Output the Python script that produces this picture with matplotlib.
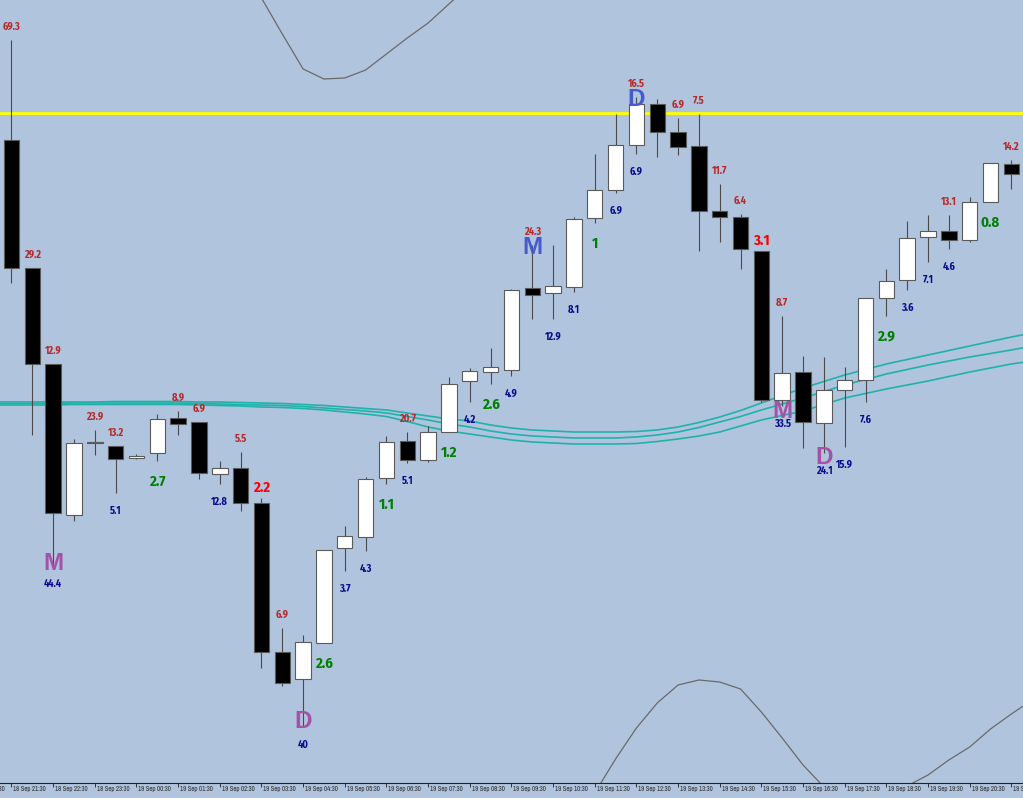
import numpy as np
import matplotlib
matplotlib.use("Agg")
import matplotlib.pyplot as plt
from matplotlib import font_manager as fm
from matplotlib.transforms import ScaledTranslation

# ---------------- data ----------------
# 30-minute candles, first candle = 18 Sep 21:30
opens  = [660,532,436,285,358,354,342,347,382,378,326,332,297,148,121,157,252,263,322,359,
          340,368,419,428,430,512,507,513,582,610,655,696,668,654,589,583,549,400,428,377,
          410,420,502,520,563,569,560,598,636]
highs  = [760,532,436,361,370,354,346,386,389,378,339,348,302,172,165,250,274,323,364,368,
          374,423,432,452,511,555,555,583,646,686,703,701,682,686,616,586,549,484,444,443,
          433,502,531,579,585,585,603,637,640]
lows   = [517,365,234,279,345,307,341,339,365,321,316,289,132,114,73,157,229,249,316,337,
          338,368,398,416,424,481,481,508,577,607,646,643,645,549,558,531,398,394,352,347,
          353,398,484,510,538,551,558,598,611]
closes = [532,436,287,357,357,341,344,381,376,327,332,297,148,117,158,250,264,321,358,340,
          368,416,429,433,510,505,514,581,610,655,696,668,653,589,583,551,400,427,378,410,
          420,502,519,562,569,560,598,637,626]

tick_pos = list(range(-2, 49, 2))
tick_labels = ["18 Sep 20:30", "18 Sep 21:30", "18 Sep 22:30", "18 Sep 23:30",
               "19 Sep 00:30", "19 Sep 01:30", "19 Sep 02:30", "19 Sep 03:30",
               "19 Sep 04:30", "19 Sep 05:30", "19 Sep 06:30", "19 Sep 07:30",
               "19 Sep 08:30", "19 Sep 09:30", "19 Sep 10:30", "19 Sep 11:30",
               "19 Sep 12:30", "19 Sep 13:30", "19 Sep 14:30", "19 Sep 15:30",
               "19 Sep 16:30", "19 Sep 17:30", "19 Sep 18:30", "19 Sep 19:30",
               "19 Sep 20:30", "19 Sep 21:30"]

level_price = 687  # yellow horizontal level

# three moving averages, candle index -1 .. 49
ma_idx = list(range(-1, 50))
ma_a = [398,398,398,398,398,398,398.5,398.5,398.5,398.5,398,398,397.5,397,396.5,395.5,394.5,393,
        391.5,390,387,384,381,379,375,372,370,369,368,368,368,368.5,370,373,377.5,383,389.5,397,
        404.5,412,418.5,425,430.5,436,440.5,445,449.5,454,458.5,463,467]
ma_b = [396.5,396.5,396.5,396.5,397,397,397,397,397,397,396.5,396,395.5,395,394.5,393.5,392,390.5,
        389,387,383.5,380,376,373,369,366,364,363,362,362,362,363,365,368,372.5,378,383.5,390,
        396,402,408.5,415,420.5,426,430.5,435,439,443,446.5,450,454]
ma_c = [395,395,395,395,395.5,395.5,395.5,395.5,395.5,395.5,395,394.5,394,393,392.5,391.5,390,388,
        386,383.5,378.5,373,369,366,363,360,358,357,356,356,356,356.5,358.5,361,364,368,374,380,
        384.5,389,395.5,402,406.5,411,415,419,423.5,428,432,436,439]

# envelope / band lines (grey)
upper_idx = list(range(11, 23))
upper_band = [840,802,766,731,721,722,730,746,762,777,796,815]
lower_idx = list(range(28, 50))
lower_band = [7,41,72,97,115,120,118,111,88,62,35,13,5,3,6,14,25,40,53,71,86,100]

# annotations (candle index, text)
high_values = [(0,"69.3"),(1,"29.2"),(2,"12.9"),(4,"23.9"),(5,"13.2"),(8,"8.9"),(9,"6.9"),
               (11,"5.5"),(13,"6.9"),(19,"20.7"),(25,"24.3"),(30,"16.5"),(32,"6.9"),(33,"7.5"),
               (34,"11.7"),(35,"6.4"),(37,"8.7"),(45,"13.1"),(48,"14.2")]
low_values = [(2,"44.4"),(5,"5.1"),(10,"12.8"),(14,"40"),(16,"3.7"),(17,"4.3"),(19,"5.1"),
              (22,"4.2"),(24,"4.9"),(26,"12.9"),(27,"8.1"),(29,"6.9"),(30,"6.9"),(37,"33.5"),
              (39,"24.1"),(40,"15.9"),(41,"7.6"),(43,"3.6"),(44,"7.1"),(45,"4.6")]
green_values = [(7,"2.7"),(15,"2.6"),(18,"1.1"),(21,"1.2"),(23,"2.6"),(28,"1"),(42,"2.9"),(47,"0.8")]
red_values = [(12,"2.2"),(36,"3.1")]
low_letters = [(2,"M"),(14,"D"),(37,"M"),(39,"D")]
high_letters = [(25,"M"),(30,"D")]

# ---------------- style ----------------
W, H, DPI = 1023, 798, 100
BG = "#B0C4DE"
ttf = fm.fontManager.ttflist
avail = {f.name for f in ttf}
def has_bold(name):
    return any(f.name == name and (f.weight == "bold" or (isinstance(f.weight, int) and f.weight >= 600))
               for f in ttf)
BOLDNARROW = next((n for n in ["Liberation Sans Narrow", "Fira Sans Condensed", "IBM Plex Sans Condensed",
                               "Roboto Condensed", "Encode Sans Condensed"] if n in avail and has_bold(n)),
                  "DejaVu Sans")
TICKFONT = next((n for n in ["Liberation Sans Narrow", "Archivo Narrow", "Fira Sans Condensed"] if n in avail),
                "DejaVu Sans")
ARIAL = "Liberation Sans" if "Liberation Sans" in avail else "DejaVu Sans"
tick_size, lab_size, big_size = 4.9, 7.4, 10.6

fig = plt.figure(figsize=(W / DPI, H / DPI), dpi=DPI, facecolor=BG)
ax = fig.add_axes([0, 15 / H, 1, 783 / H], facecolor=BG)
ax.set_xlim(-0.552, 48.56)
ax.set_ylim(17, 800)

x = np.arange(len(opens))
o = np.array(opens, float); c = np.array(closes, float)
hi = np.array(highs, float); lo = np.array(lows, float)

ax.axhline(level_price, color="#FFFF00", lw=2.0, zorder=2)

TEAL = "#20B2AA"
for ma in (ma_a, ma_b, ma_c):
    ax.plot(ma_idx, ma, color=TEAL, lw=1.2, zorder=2, solid_joinstyle="round")

ax.plot(upper_idx, upper_band, color="#6A6A6A", lw=0.9, zorder=2)
ax.plot(lower_idx, lower_band, color="#6A6A6A", lw=0.9, zorder=2)

ax.vlines(x, lo, hi, colors="#4A4A4A", lw=0.8, zorder=3)
bull = c > o
ax.bar(x, np.abs(c - o), bottom=np.minimum(o, c), width=0.74,
       color=np.where(bull, "white", "black"), edgecolor="#5A5A5A", linewidth=0.8, zorder=4)

def ann(i, y, txt, dy, color, size, fam=None):
    ax.annotate(txt, xy=(i, y), xytext=(0, dy), textcoords="offset pixels",
                ha="center", va="center", color=color, fontsize=size,
                fontweight="bold", zorder=6,
                family=BOLDNARROW if fam is None else fam)

for i, t in high_values:
    ann(i, hi[i], t, 13.5, "#B82828", lab_size)
for i, t in low_values:
    ann(i, lo[i], t, -17.5, "#0A0A8C", lab_size)
for i, t in green_values:
    ann(i, lo[i], t, -20.5, "#008000", big_size)
for i, t in red_values:
    ann(i, hi[i], t, 10.5, "#FF0000", big_size)
purple_dy = [3, 5, -5, -5]
for (i, t), d in zip(low_letters, purple_dy):
    ann(i, lo[i], t, d, "#A352A8", 17.5, fam=ARIAL)
for i, t in high_letters:
    ann(i, hi[i], t, -2, "#4759D0", 17.5, fam=ARIAL)

# axes / ticks
for s in ("top", "right", "left"):
    ax.spines[s].set_visible(False)
ax.spines["bottom"].set_color("#222222")
ax.spines["bottom"].set_linewidth(0.8)
ax.set_yticks([])
vis = [(p, l) for p, l in zip(tick_pos, tick_labels) if p >= 0]
ax.set_xticks([p for p, _ in vis], [l for _, l in vis], ha="left", va="center",
              fontsize=tick_size, color="#2A2A2A", family=TICKFONT)
ax.tick_params(axis="x", direction="out", length=2.9, width=0.7, color="#333333", pad=1.4)
shift = ScaledTranslation(2 / DPI, 0, fig.dpi_scale_trans)
for lbl in ax.get_xticklabels():
    lbl.set_transform(lbl.get_transform() + shift)
p0, l0 = tick_pos[0], tick_labels[0]
ax.annotate(l0, xy=(p0, 0), xycoords=("data", "axes fraction"), xytext=(2, -6),
            textcoords="offset pixels", ha="left", va="center", fontsize=tick_size,
            color="#2A2A2A", annotation_clip=False, family=TICKFONT)

fig.savefig("out.png", dpi=DPI, facecolor=BG)
